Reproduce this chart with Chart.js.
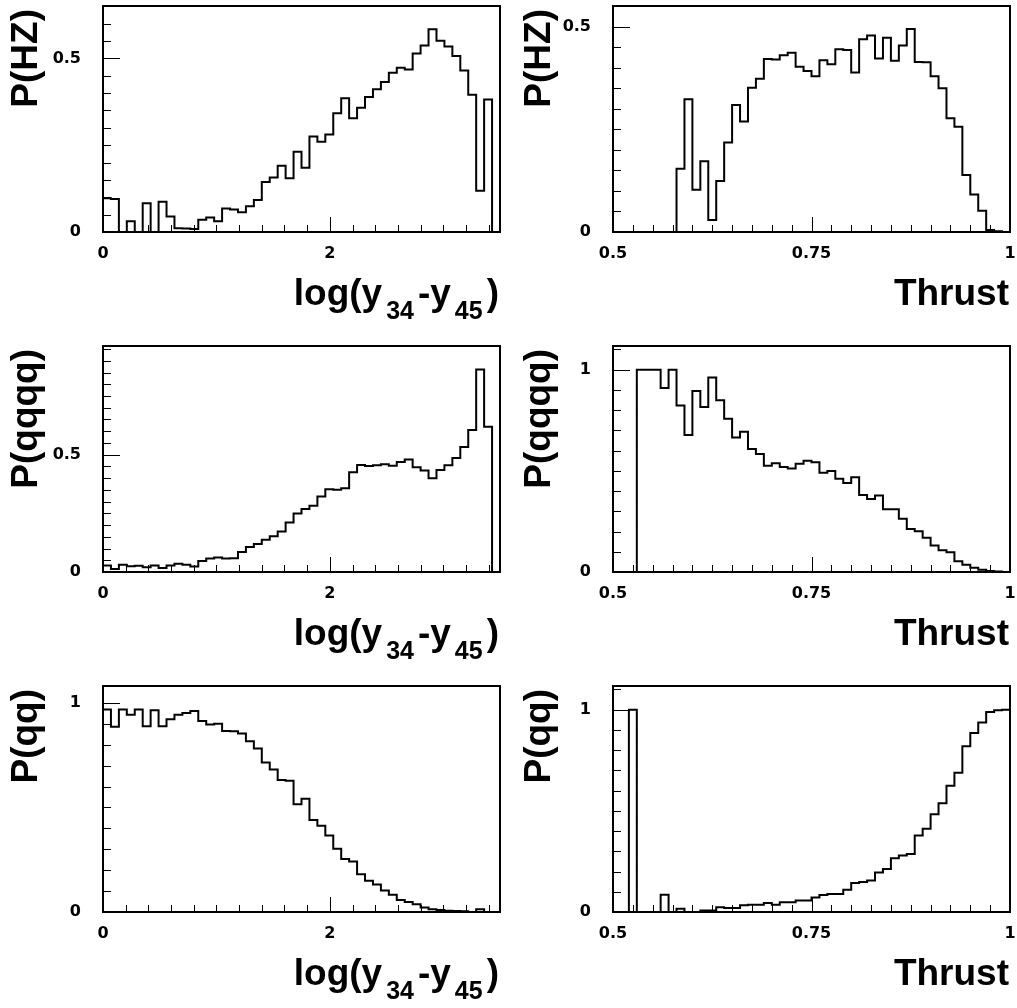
<!DOCTYPE html>
<html>
<head>
<meta charset="utf-8">
<script src="https://cdn.jsdelivr.net/npm/chart.js@4.4.1/dist/chart.umd.min.js"></script>
<style>
html, body { margin: 0; padding: 0; background: #fff; overflow: hidden; }
#wrap { position: relative; width: 1017px; height: 1008px; }
canvas { position: absolute; }
</style>
</head>
<body>
<div id="wrap"></div>
<script>
// binning of the two variables
const logRange = [0, 3.5];
const thrustRange = [0.5, 1.0];

// P(HZ)
const hzLog = [0.097, 0.095, 0, 0.031, 0, 0.083, 0, 0.087, 0.045, 0.011,
    0.010, 0.009, 0.035, 0.042, 0.031, 0.068, 0.065, 0.057, 0.074, 0.092,
    0.144, 0.157, 0.191, 0.155, 0.231, 0.185, 0.275, 0.260, 0.281, 0.342,
    0.385, 0.328, 0.358, 0.389, 0.411, 0.432, 0.459, 0.473, 0.468, 0.514,
    0.537, 0.584, 0.551, 0.534, 0.507, 0.465, 0.395, 0.119, 0.382, 0];
const hzThrust = [0, 0, 0, 0, 0, 0, 0, 0, 0.154, 0.323,
    0.103, 0.172, 0.029, 0.124, 0.218, 0.309, 0.269, 0.351, 0.373, 0.421,
    0.420, 0.430, 0.436, 0.402, 0.392, 0.379, 0.418, 0.408, 0.445, 0.443,
    0.388, 0.469, 0.478, 0.422, 0.473, 0.417, 0.454, 0.494, 0.414, 0.413,
    0.379, 0.350, 0.277, 0.256, 0.139, 0.091, 0.052, 0.005, 0.002, 0];

// P(qqqq)
const qqqqLog = [0.028, 0.013, 0.031, 0.024, 0.027, 0.020, 0.028, 0.017, 0.028, 0.035,
    0.031, 0.023, 0.047, 0.057, 0.062, 0.058, 0.059, 0.085, 0.106, 0.119,
    0.137, 0.152, 0.173, 0.211, 0.249, 0.268, 0.282, 0.322, 0.353, 0.350,
    0.357, 0.425, 0.456, 0.452, 0.455, 0.459, 0.453, 0.469, 0.479, 0.446,
    0.432, 0.399, 0.435, 0.455, 0.486, 0.533, 0.605, 0.863, 0.619, 0];
const qqqqThrust = [0, 0, 0, 1.0, 1.0, 1.0, 0.910, 1.0, 0.823, 0.677,
    0.895, 0.816, 0.961, 0.849, 0.757, 0.665, 0.693, 0.608, 0.583, 0.525,
    0.537, 0.519, 0.512, 0.535, 0.550, 0.542, 0.491, 0.499, 0.461, 0.440,
    0.468, 0.381, 0.361, 0.378, 0.310, 0.310, 0.263, 0.213, 0.202, 0.169,
    0.131, 0.108, 0.097, 0.053, 0.036, 0.021, 0.011, 0.005, 0.002, 0];

// P(qq)
const qqLog = [0.968, 0.886, 0.968, 0.944, 0.968, 0.889, 0.965, 0.889, 0.922, 0.944,
    0.952, 0.962, 0.913, 0.897, 0.901, 0.866, 0.865, 0.854, 0.817, 0.782,
    0.715, 0.682, 0.631, 0.628, 0.515, 0.542, 0.440, 0.413, 0.366, 0.302,
    0.253, 0.242, 0.181, 0.149, 0.132, 0.103, 0.083, 0.057, 0.048, 0.037,
    0.021, 0.013, 0.010, 0.006, 0.005, 0.003, 0, 0.013, 0, 0];
const qqThrust = [0, 0, 1.0, 0, 0, 0, 0.085, 0, 0.016, 0,
    0, 0.007, 0.008, 0.023, 0.020, 0.020, 0.033, 0.036, 0.036, 0.044,
    0.036, 0.048, 0.048, 0.057, 0.057, 0.072, 0.084, 0.089, 0.089, 0.110,
    0.143, 0.148, 0.156, 0.195, 0.213, 0.266, 0.279, 0.287, 0.378, 0.412,
    0.483, 0.537, 0.624, 0.688, 0.819, 0.885, 0.936, 0.988, 0.997, 1.0];

// labelled ticks
const logTicks = [0, 2];
const logTickLabels = ['0', '2'];
const thrustTicks = [0.5, 0.75, 1];
const thrustTickLabels = ['0.5', '0.75', '1'];
const halfTicks = [0, 0.5];
const halfTickLabels = ['0', '0.5'];
const oneTicks = [0, 1];
const oneTickLabels = ['0', '1'];

// axis titles: [text, subscript]
const logTitle = [['log(y', false], ['34', true], ['-y', false], ['45', true], [')', false]];
const thrustTitle = [['Thrust', false]];

const TITLE_FONT = '"Liberation Sans", Arial, Helvetica, sans-serif';
const TICK_FONT = '"DejaVu Sans", Verdana, sans-serif';

const panels = [
    { row: 0, col: 0, values: hzLog, range: logRange, xt: logTicks, xl: logTickLabels, xMinor: 0.2, yMax: 0.651, yt: halfTicks, yl: halfTickLabels, yMinor: 0.05, yTitle: 'P(HZ)', xTitle: logTitle },
    { row: 0, col: 1, values: hzThrust, range: thrustRange, xt: thrustTicks, xl: thrustTickLabels, xMinor: 0.025, yMax: 0.550, yt: halfTicks, yl: halfTickLabels, yMinor: 0.05, yTitle: 'P(HZ)', xTitle: thrustTitle },
    { row: 1, col: 0, values: qqqqLog, range: logRange, xt: logTicks, xl: logTickLabels, xMinor: 0.2, yMax: 0.963, yt: halfTicks, yl: halfTickLabels, yMinor: 0.05, yTitle: 'P(qqqq)', xTitle: logTitle },
    { row: 1, col: 1, values: qqqqThrust, range: thrustRange, xt: thrustTicks, xl: thrustTickLabels, xMinor: 0.025, yMax: 1.117, yt: oneTicks, yl: oneTickLabels, yMinor: 0.1, yTitle: 'P(qqqq)', xTitle: thrustTitle },
    { row: 2, col: 0, values: qqLog, range: logRange, xt: logTicks, xl: logTickLabels, xMinor: 0.2, yMax: 1.081, yt: oneTicks, yl: oneTickLabels, yMinor: 0.1, yTitle: 'P(qq)', xTitle: logTitle },
    { row: 2, col: 1, values: qqThrust, range: thrustRange, xt: thrustTicks, xl: thrustTickLabels, xMinor: 0.025, yMax: 1.117, yt: oneTicks, yl: oneTickLabels, yMinor: 0.1, yTitle: 'P(qq)', xTitle: thrustTitle }
];

function histPoints(vals, range) {
    const w = (range[1] - range[0]) / vals.length;
    const pts = [{ x: range[0], y: 0 }];
    vals.forEach((v, i) => pts.push({ x: range[0] + i * w, y: v }));
    pts.push({ x: range[1], y: vals[vals.length - 1] });
    pts.push({ x: range[1], y: 0 });
    return pts;
}

// frame, inward ticks and the axis titles
const pawPlugin = {
    id: 'paw',
    afterDatasetsDraw(chart, args, o) {
        const ctx = chart.ctx;
        const a = chart.chartArea;
        const xs = chart.scales.x, ys = chart.scales.y;
        ctx.save();
        ctx.strokeStyle = '#000';

        ctx.lineWidth = 1;
        for (let v = xs.min + o.xMinor; v < xs.max - 1e-9; v += o.xMinor) {
            const px = Math.round(xs.getPixelForValue(v)) + 0.5;
            const major = o.xt.some(t => Math.abs(t - v) < 1e-6);
            ctx.beginPath();
            ctx.moveTo(px, a.bottom);
            ctx.lineTo(px, a.bottom - (major ? 15 : 7));
            ctx.stroke();
        }
        for (let v = o.yMinor; v < ys.max - 1e-9; v += o.yMinor) {
            const py = Math.round(ys.getPixelForValue(v)) + 0.5;
            const major = o.yt.some(t => Math.abs(t - v) < 1e-6);
            ctx.beginPath();
            ctx.moveTo(a.left, py);
            ctx.lineTo(a.left + (major ? 17 : 8), py);
            ctx.stroke();
        }

        ctx.lineWidth = 2;
        ctx.strokeRect(a.left, a.top, a.right - a.left, a.bottom - a.top);

        ctx.fillStyle = '#000';
        // x title, right aligned, with subscripts
        const main = 'bold 37px ' + TITLE_FONT, sub = 'bold 25px ' + TITLE_FONT;
        const gap = 4;
        let total = 0;
        o.xTitle.forEach(([t, s]) => {
            ctx.font = s ? sub : main;
            total += ctx.measureText(t).width + (s ? 2 * gap : 0);
        });
        let x = a.right - 1 - total;
        const base = a.bottom + 73;
        ctx.textBaseline = 'alphabetic';
        ctx.textAlign = 'left';
        o.xTitle.forEach(([t, s]) => {
            ctx.font = s ? sub : main;
            if (s) x += gap;
            ctx.fillText(t, x, s ? base + 14 : base);
            x += ctx.measureText(t).width + (s ? gap : 0);
        });

        // y title, rotated, ending at the top of the frame
        ctx.translate(a.left - o.yOff, a.top + 3);
        ctx.rotate(-Math.PI / 2);
        ctx.font = main;
        ctx.textAlign = 'right';
        ctx.textBaseline = 'middle';
        ctx.fillText(o.yTitle, 0, 0);
        ctx.restore();
    }
};

const wrap = document.getElementById('wrap');
panels.forEach(p => {
    const cv = document.createElement('canvas');
    cv.width = p.col ? 507 : 510;
    cv.height = 328;
    cv.style.left = (p.col * 510) + 'px';
    cv.style.top = (p.row * 340) + 'px';
    wrap.appendChild(cv);

    new Chart(cv, {
        type: 'line',
        data: {
            datasets: [{
                data: histPoints(p.values, p.range),
                borderColor: '#000',
                borderWidth: 2,
                stepped: 'before',
                pointRadius: 0,
                fill: false,
                tension: 0
            }]
        },
        options: {
            responsive: false,
            animation: false,
            events: [],
            layout: { autoPadding: false, padding: { top: 6, right: p.col ? 7 : 10, left: 0, bottom: 0 } },
            scales: {
                x: {
                    type: 'linear',
                    min: p.range[0],
                    max: p.range[1],
                    grid: { display: false, drawTicks: false },
                    border: { display: false },
                    afterBuildTicks: s => { s.ticks = p.xt.map(v => ({ value: v })); },
                    afterFit: s => { s.height = 96; s.paddingLeft = 0; s.paddingRight = 0; },
                    ticks: {
                        autoSkip: false,
                        maxRotation: 0,
                        padding: 12,
                        color: '#000',
                        font: { family: TICK_FONT, size: 16, weight: 'bold' },
                        callback: (v) => p.xl[p.xt.indexOf(v)]
                    }
                },
                y: {
                    min: 0,
                    max: p.yMax,
                    grid: { display: false, drawTicks: false },
                    border: { display: false },
                    afterBuildTicks: s => { s.ticks = p.yt.map(v => ({ value: v })); },
                    afterFit: s => { s.width = 103; s.paddingTop = 0; s.paddingBottom = 0; },
                    ticks: {
                        autoSkip: false,
                        padding: 22,
                        color: '#000',
                        font: { family: TICK_FONT, size: 16, weight: 'bold' },
                        callback: (v) => p.yl[p.yt.indexOf(v)]
                    }
                }
            },
            plugins: {
                legend: { display: false },
                tooltip: { enabled: false },
                paw: {
                    xMinor: p.xMinor, xt: p.xt,
                    yMinor: p.yMinor, yt: p.yt,
                    xTitle: p.xTitle, yTitle: p.yTitle,
                    yOff: p.col ? 73 : 76
                }
            }
        },
        plugins: [pawPlugin]
    });
});
</script>
</body>
</html>
